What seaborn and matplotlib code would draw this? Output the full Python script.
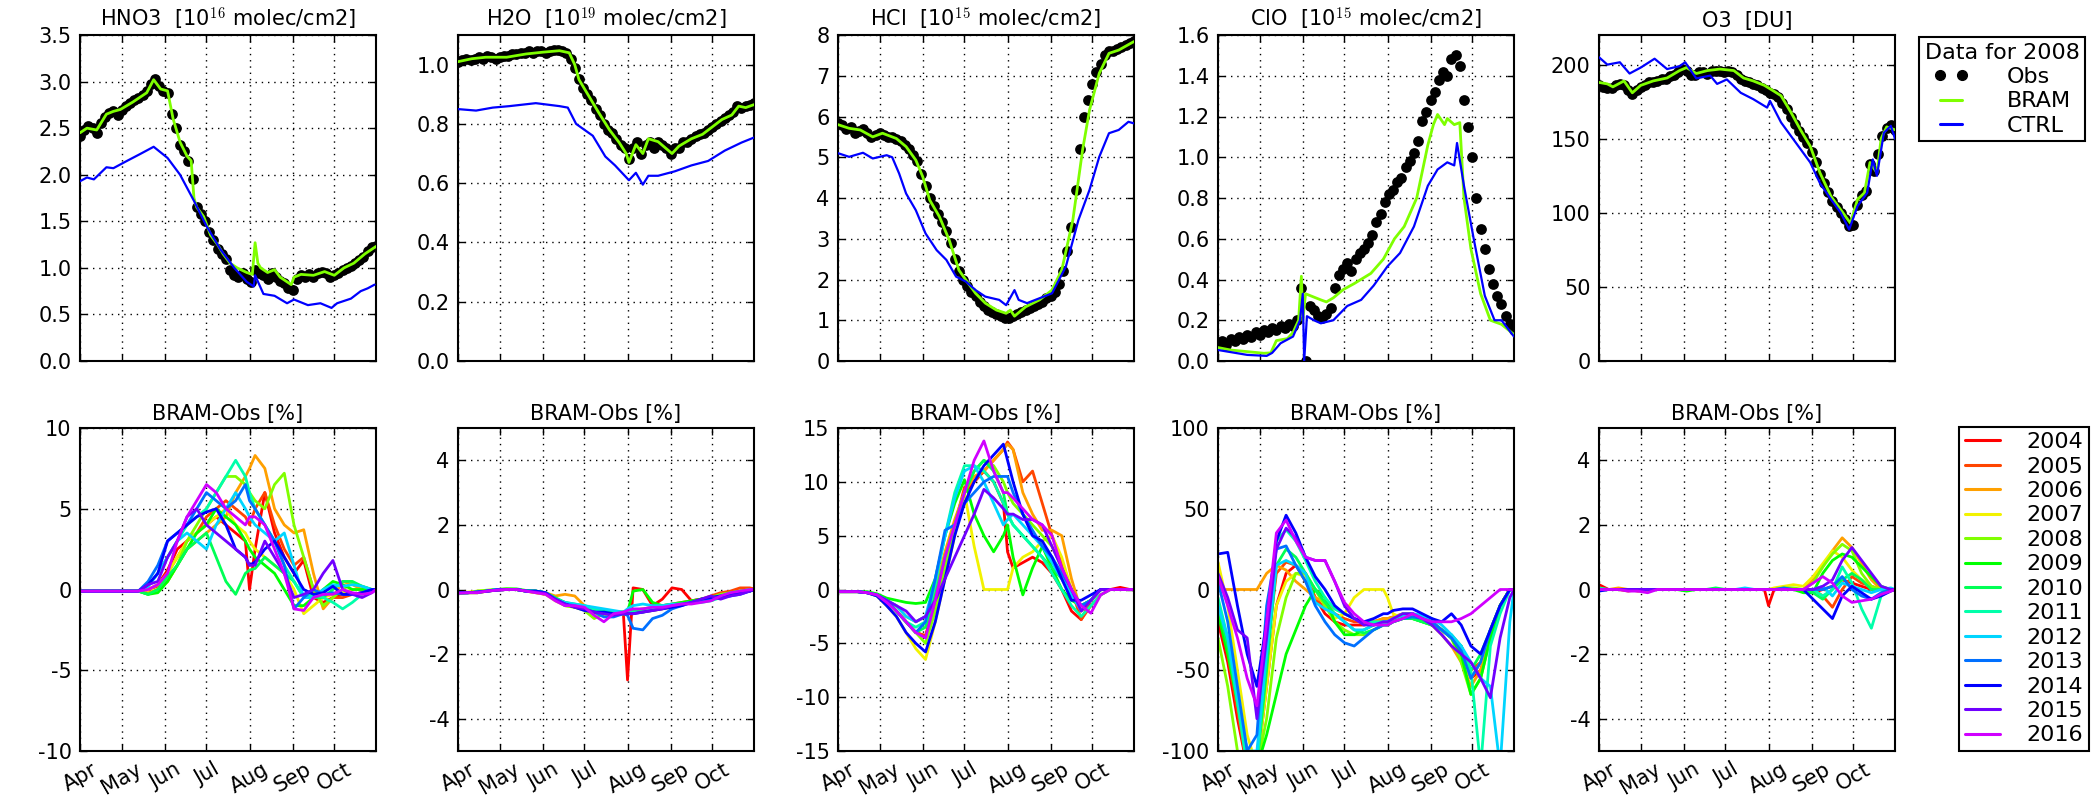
import numpy as np
import pandas as pd
import matplotlib
matplotlib.use("Agg")
import matplotlib.pyplot as plt
import seaborn as sns
from matplotlib.lines import Line2D
from matplotlib.ticker import FormatStrFormatter

# ---------------------------------------------------------------- data
MONTHS = ["Apr", "May", "Jun", "Jul", "Aug", "Sep", "Oct"]
MONTH_DAYS = [0, 30, 61, 91, 122, 153, 183]   # days since 1 April
X_END = 213
OBS_STEP = 3                                   # obs sampled every 3 days

# ---- top row (year 2008): Obs on a 3-day grid, BRAM / CTRL as (day, value)
HNO3_OBS = [2.42, 2.48, 2.52, 2.50, 2.45, 2.55, 2.62, 2.66, 2.68, 2.64,
            2.70, 2.74, 2.77, 2.80, 2.82, 2.86, 2.90, 2.97, 3.03, 2.95,
            2.90, 2.88, 2.65, 2.50, 2.32, 2.25, 2.15, 1.95, 1.65, 1.58,
            1.50, 1.38, 1.30, 1.20, 1.15, 1.10, 0.98, 0.92, 0.90, 0.95,
            0.88, 0.85, 0.98, 0.95, 0.92, 0.88, 0.95, 0.90, 0.86, 0.84,
            0.78, 0.76, 0.88, 0.92, 0.90, 0.93, 0.90, 0.94, 0.96, 0.95,
            0.90, 0.92, 0.95, 0.98, 1.00, 1.02, 1.05, 1.08, 1.12, 1.18,
            1.22, 1.24]
HNO3_BRAM = [(0, 2.45), (5, 2.50), (12, 2.48), (19, 2.65), (24, 2.68), (29, 2.70),
             (38, 2.78), (48, 2.88), (53, 3.02), (58, 2.92), (63, 2.90), (67, 2.60),
             (72, 2.35), (77, 2.20), (80, 2.15), (82, 1.75), (84, 1.65), (89, 1.55),
             (94, 1.35), (99, 1.25), (103, 1.15), (108, 1.05), (113, 1.00), (120, 0.95),
             (124, 0.93), (126, 1.27), (128, 1.05), (130, 1.00), (135, 0.95), (140, 0.98),
             (144, 0.90), (152, 0.82), (154, 0.90), (159, 0.93), (168, 0.92), (176, 0.96),
             (183, 0.92), (190, 1.00), (197, 1.05), (205, 1.15), (213, 1.23)]
HNO3_CTRL = [(0, 1.93), (5, 1.97), (10, 1.95), (19, 2.08), (24, 2.07), (34, 2.15),
             (43, 2.22), (53, 2.30), (63, 2.18), (72, 2.00), (82, 1.72), (91, 1.45),
             (101, 1.20), (111, 1.00), (120, 0.85), (125, 0.80), (126, 0.92), (132, 0.72),
             (140, 0.70), (149, 0.62), (154, 0.66), (164, 0.60), (173, 0.62), (181, 0.57),
             (185, 0.62), (195, 0.67), (202, 0.75), (207, 0.78), (212, 0.82)]

H2O_OBS = [1.010, 1.015, 1.020, 1.015, 1.020, 1.025, 1.020, 1.030, 1.025, 1.020,
           1.025, 1.030, 1.030, 1.035, 1.035, 1.040, 1.040, 1.045, 1.040, 1.045,
           1.045, 1.040, 1.045, 1.050, 1.050, 1.045, 1.040, 1.020, 0.990, 0.950,
           0.920, 0.900, 0.880, 0.850, 0.830, 0.800, 0.780, 0.770, 0.750, 0.730,
           0.720, 0.680, 0.720, 0.740, 0.700, 0.730, 0.740, 0.720, 0.740, 0.730,
           0.720, 0.700, 0.720, 0.720, 0.740, 0.740, 0.750, 0.760, 0.765, 0.770,
           0.780, 0.790, 0.800, 0.810, 0.820, 0.830, 0.840, 0.860, 0.855, 0.860,
           0.865, 0.870]
H2O_BRAM = [(0, 1.01), (10, 1.02), (20, 1.025), (35, 1.025), (49, 1.036), (61, 1.042),
            (73, 1.047), (80, 1.04), (84, 1.0), (87, 0.95), (94, 0.895), (101, 0.84),
            (109, 0.78), (116, 0.737), (121, 0.70), (123, 0.67), (128, 0.73), (133, 0.70),
            (137, 0.75), (144, 0.74), (154, 0.70), (159, 0.725), (168, 0.75), (176, 0.765),
            (183, 0.79), (190, 0.815), (197, 0.83), (202, 0.86), (207, 0.855), (213, 0.865)]
H2O_CTRL = [(0, 0.85), (13, 0.845), (25, 0.855), (37, 0.86), (56, 0.87), (73, 0.86),
            (79, 0.855), (85, 0.80), (97, 0.76), (106, 0.69), (113, 0.66), (123, 0.61),
            (128, 0.635), (133, 0.595), (137, 0.625), (144, 0.625), (156, 0.64), (168, 0.66),
            (180, 0.675), (192, 0.71), (204, 0.737), (213, 0.754)]

HCL_OBS = [5.85, 5.80, 5.70, 5.75, 5.60, 5.65, 5.70, 5.60, 5.50, 5.55,
           5.60, 5.55, 5.50, 5.50, 5.45, 5.40, 5.30, 5.20, 5.05, 4.90,
           4.60, 4.30, 4.00, 3.80, 3.60, 3.40, 3.20, 2.90, 2.50, 2.20,
           2.00, 1.85, 1.70, 1.60, 1.45, 1.35, 1.25, 1.20, 1.15, 1.10,
           1.05, 1.05, 1.10, 1.15, 1.20, 1.25, 1.30, 1.35, 1.40, 1.45,
           1.55, 1.60, 1.70, 1.90, 2.20, 2.70, 3.30, 4.20, 5.20, 6.00,
           6.40, 6.80, 7.10, 7.30, 7.50, 7.60, 7.60, 7.65, 7.70, 7.75,
           7.80, 7.85]
HCL_BRAM = [(0, 5.8), (8, 5.71), (16, 5.67), (25, 5.5), (32, 5.59), (42, 5.46), (49, 5.26),
            (56, 4.93), (61, 4.52), (66, 3.95), (73, 3.54), (80, 2.97), (87, 2.23), (92, 1.99),
            (99, 1.66), (106, 1.42), (114, 1.25), (121, 1.17), (124, 1.25), (127, 1.1),
            (135, 1.33), (145, 1.5), (154, 1.74), (161, 2.23), (169, 3.46), (176, 5.18),
            (181, 6.16), (188, 7.06), (195, 7.55), (202, 7.63), (213, 7.84)]
HCL_CTRL = [(0, 5.1), (8, 5.01), (18, 5.11), (25, 4.97), (35, 5.05), (39, 5.0), (44, 4.6),
            (49, 4.11), (56, 3.7), (63, 3.13), (71, 2.72), (78, 2.48), (85, 2.07), (92, 1.95),
            (99, 1.74), (106, 1.58), (116, 1.5), (121, 1.37), (127, 1.74), (130, 1.5),
            (136, 1.42), (145, 1.54), (154, 1.66), (164, 2.32), (173, 3.46), (181, 4.2),
            (188, 5.01), (195, 5.59), (202, 5.67), (209, 5.87), (213, 5.83)]

CLO_OBS = [0.09, 0.10, 0.08, 0.11, 0.10, 0.12, 0.11, 0.13, 0.12, 0.14,
           0.13, 0.15, 0.14, 0.16, 0.15, 0.17, 0.16, 0.18, 0.17, 0.20,
           0.36, 0.00, 0.27, 0.25, 0.22, 0.21, 0.23, 0.26, 0.36, 0.42,
           0.45, 0.48, 0.44, 0.50, 0.53, 0.55, 0.58, 0.62, 0.68, 0.72,
           0.78, 0.82, 0.84, 0.88, 0.90, 0.95, 0.98, 1.02, 1.08, 1.18,
           1.22, 1.28, 1.32, 1.38, 1.42, 1.40, 1.48, 1.50, 1.45, 1.28,
           1.15, 1.00, 0.80, 0.65, 0.55, 0.45, 0.38, 0.32, 0.28, 0.22,
           0.18, 0.15]
CLO_BRAM = [(0, 0.066), (9, 0.054), (21, 0.046), (33, 0.038), (38, 0.04), (42, 0.10),
            (50, 0.11), (54, 0.14), (58, 0.2), (60, 0.416), (61, 0.2), (63, 0.33),
            (74, 0.30), (78, 0.29), (83, 0.31), (90, 0.35), (98, 0.38), (110, 0.43),
            (119, 0.5), (127, 0.6), (134, 0.66), (143, 0.8), (151, 1.06), (155, 1.16),
            (158, 1.21), (163, 1.16), (165, 1.19), (170, 1.16), (174, 1.17), (177, 0.8),
            (182, 0.55), (189, 0.33), (196, 0.2), (204, 0.18), (213, 0.13)]
CLO_CTRL = [(0, 0.054), (21, 0.03), (35, 0.025), (39, 0.04), (45, 0.087), (54, 0.12),
            (59, 0.2), (61, 0.33), (62, 0.0), (64, 0.22), (69, 0.2), (74, 0.185), (83, 0.2),
            (93, 0.27), (103, 0.3), (112, 0.37), (122, 0.465), (131, 0.53), (141, 0.66),
            (151, 0.86), (158, 0.94), (165, 0.975), (170, 0.96), (172, 1.07), (177, 0.86),
            (184, 0.6), (192, 0.32), (199, 0.2), (204, 0.2), (213, 0.12)]

O3_OBS = [186, 185, 184, 184, 186, 187, 186, 183, 180, 183,
          185, 186, 188, 188, 189, 190, 190, 192, 193, 195,
          197, 196, 193, 193, 195, 195, 194, 196, 196, 196,
          195, 196, 195, 193, 190, 189, 188, 187, 186, 184,
          183, 181, 180, 178, 174, 170, 165, 160, 155, 151,
          147, 141, 134, 126, 120, 114, 108, 104, 100, 96,
          91, 92, 105, 112, 115, 133, 128, 140, 152, 157,
          159, 156]
O3_BRAM = [(0, 188), (6, 187), (10, 185), (18, 189), (24, 181), (30, 186), (39, 189),
           (49, 191), (58, 196), (63, 198), (70, 194), (78, 196), (87, 197), (97, 196),
           (104, 191), (111, 189), (119, 186), (126, 182), (131, 179), (138, 168),
           (145, 156), (152, 145), (159, 127), (167, 111), (174, 102), (179, 95.5),
           (181, 93), (186, 109), (191, 113.5), (195, 134), (200, 127), (203, 150),
           (207, 158), (213, 156)]
O3_CTRL = [(0, 205), (6, 200), (15, 201.6), (22, 194), (30, 198), (40, 204), (49, 197),
           (58, 199), (62, 201.6), (70, 190.7), (80, 192.6), (85, 187), (92, 190),
           (102, 181), (111, 176.7), (121, 171), (123, 175.6), (131, 161), (138, 152),
           (145, 143), (152, 134), (159, 120), (167, 109), (174, 100), (180, 88.7),
           (186, 104.5), (193, 113.5), (197, 136), (200, 125), (205, 154), (210, 158.7),
           (213, 150)]

# ---- bottom row: BRAM-Obs [%] per year, on a common day grid
YEARS = [2004, 2005, 2006, 2007, 2008, 2009, 2010, 2011, 2012, 2013, 2014, 2015, 2016]
DAYS_BOT = [0, 7, 14, 21, 28, 35, 42, 49, 56, 63, 70, 77, 84, 91, 98, 105, 112, 119, 122,
            126, 133, 140, 147, 154, 161, 168, 175, 182, 189, 196, 203, 210, 213]

DIFF_HNO3 = {
    2004: [-0.1, -0.1, -0.1, -0.1, -0.1, -0.1, -0.1, 0, 0.3, 1.2, 2.5, 3, 3.5, 4, 4.5, 4, 3.5, 3, 0, 2.5, 6, 3.5, 2, 1, 1.8, -0.5, -0.8, -0.5, -0.3, -0.3, -0.2, 0, 0],
    2005: [-0.1, -0.1, -0.1, -0.1, -0.1, -0.1, -0.1, 0, 0.2, 1, 2, 3, 3.5, 4.5, 5, 5.5, 5, 4.5, 4, 5, 6, 4, 2.5, 1.5, 2, 0, -1, -0.5, -0.5, -0.3, -0.2, 0, 0],
    2006: [-0.1, -0.1, -0.1, -0.1, -0.1, -0.1, -0.1, -0.2, 0, 0.5, 1.5, 2.5, 3, 3.5, 4, 4.5, 6, 7, 7.5, 8.3, 7.5, 5, 4, 3.5, 3.7, 1, -1.2, -0.5, 0.5, 0.3, 0, 0, 0],
    2007: [-0.1, -0.1, -0.1, -0.1, -0.1, -0.1, -0.1, 0, 0.3, 1, 2, 3, 3.5, 4, 4.5, 5, 4, 3.5, 3, 2.5, 2, 1.5, 1, 0, -1.5, -1, -0.5, -0.3, -0.2, 0, 0, 0, 0],
    2008: [-0.1, -0.1, -0.1, -0.1, -0.1, -0.1, -0.1, -0.3, 0, 0.5, 1.5, 3, 4, 5, 6, 7, 7, 6.5, 6, 5.5, 5, 6.5, 7.2, 4, 2, 0, -1, -0.5, 0, 0.4, 0.2, 0, 0],
    2009: [-0.1, -0.1, -0.1, -0.1, -0.1, -0.1, -0.1, -0.3, -0.2, 0.5, 1.5, 2.5, 3.5, 4, 5, 4.5, 4, 3, 2.5, 2, 1.5, 1, 0, -1, -1, -0.5, 0, 0.5, 0.3, 0, 0, 0, 0],
    2010: [-0.1, -0.1, -0.1, -0.1, -0.1, -0.1, -0.1, -0.3, 0, 0.8, 1.5, 2.5, 3, 3.5, 2, 0.5, -0.3, 1, 1.2, 1.3, 2, 1.5, 1, 0.5, -0.5, -0.5, -0.5, 0, 0.5, 0.5, 0.2, 0, 0],
    2011: [-0.1, -0.1, -0.1, -0.1, -0.1, -0.1, -0.1, 0.2, 1, 2, 3, 4, 4.5, 5, 6, 7, 8, 7, 6, 5, 4, 3, 1.5, 0.5, -0.5, -0.3, -0.5, -0.8, -1.2, -0.8, -0.3, 0, 0],
    2012: [-0.1, -0.1, -0.1, -0.1, -0.1, -0.1, -0.1, 0.2, 1, 2, 3, 3.5, 3, 2.5, 4, 5, 6, 5, 4.5, 4, 3.5, 3, 3.5, 1.5, -0.5, -0.5, 0, 0.3, 0.2, 0.3, 0.2, 0, 0],
    2013: [-0.1, -0.1, -0.1, -0.1, -0.1, -0.1, -0.1, 0.5, 1.5, 3, 3.5, 4, 5, 6, 5.5, 5, 5.5, 6.5, 5.5, 5, 4, 3, 1.5, -1.2, -0.5, 0, -0.3, -0.2, -0.3, -0.3, -0.2, 0, 0],
    2014: [-0.1, -0.1, -0.1, -0.1, -0.1, -0.1, -0.1, 0.3, 1, 3, 3.5, 4, 4.5, 4.8, 5, 4, 2.5, 2, 1.5, 1.7, 2.5, 3, 2, 1, 0, -0.3, -0.2, 0.2, -0.3, -0.3, -0.2, 0, 0],
    2015: [-0.1, -0.1, -0.1, -0.1, -0.1, -0.1, -0.1, 0.3, 0.5, 2, 3, 4.5, 5, 4, 3.5, 3, 2.5, 2, 1.5, 1.5, 3, 2, 1, -0.5, -0.3, 0, 1, 1.8, 0, -0.3, -0.5, -0.2, 0],
    2016: [-0.1, -0.1, -0.1, -0.1, -0.1, -0.1, -0.1, 0, 0.3, 1, 3, 4.5, 5.5, 6.5, 6, 5, 4.5, 4, 4.5, 4.5, 4, 2.5, 1, -1.2, -1.3, -0.5, -0.3, -0.3, 0, -0.2, -0.3, -0.2, 0],
}

DIFF_H2O = {
    2004: [-0.1, -0.1, -0.08, -0.05, -0.02, 0, 0, -0.05, -0.05, -0.1, -0.3, -0.45, -0.5, -0.6, -0.65, -0.7, -0.75, -0.75, -2.8, 0.05, 0.0, -0.5, -0.3, 0.05, 0.0, -0.35, -0.3, -0.25, -0.2, -0.1, -0.05, 0, 0],
    2005: [-0.12, -0.1, -0.1, -0.05, 0, 0, 0, -0.05, -0.1, -0.15, -0.3, -0.4, -0.5, -0.55, -0.6, -0.65, -0.7, -0.75, -0.7, -0.65, -0.6, -0.55, -0.5, -0.45, -0.4, -0.35, -0.3, -0.2, -0.1, -0.05, 0.05, 0.05, 0.02],
    2006: [-0.1, -0.1, -0.1, -0.05, 0, 0, 0, -0.05, -0.05, -0.1, -0.2, -0.15, -0.2, -0.5, -0.6, -0.65, -0.7, -0.7, -0.7, -0.7, -0.65, -0.6, -0.55, -0.5, -0.45, -0.4, -0.3, -0.25, -0.2, -0.15, -0.1, -0.05, 0],
    2007: [-0.1, -0.08, -0.05, -0.03, 0, 0, 0, -0.05, -0.1, -0.15, -0.35, -0.5, -0.55, -0.6, -0.75, -0.8, -0.8, -0.75, -0.75, -0.7, -0.7, -0.65, -0.6, -0.55, -0.45, -0.4, -0.35, -0.25, -0.2, -0.15, -0.1, -0.05, 0],
    2008: [-0.1, -0.1, -0.05, -0.02, 0, 0.02, 0, -0.05, -0.05, -0.12, -0.3, -0.5, -0.55, -0.65, -0.9, -0.75, -0.7, -0.7, -0.65, -0.65, -0.6, -0.6, -0.55, -0.5, -0.45, -0.4, -0.3, -0.25, -0.15, -0.1, -0.05, 0, 0],
    2009: [-0.1, -0.1, -0.08, -0.04, 0, 0.02, 0.02, -0.03, -0.05, -0.1, -0.3, -0.45, -0.5, -0.6, -0.65, -0.7, -0.75, -0.7, -0.7, -0.05, 0.0, -0.4, -0.5, -0.45, -0.4, -0.35, -0.3, -0.25, -0.2, -0.15, -0.1, -0.05, 0],
    2010: [-0.12, -0.1, -0.1, -0.05, -0.02, 0, 0, -0.05, -0.05, -0.1, -0.25, -0.4, -0.45, -0.5, -0.6, -0.65, -0.7, -0.7, -0.7, -0.65, -0.65, -0.6, -0.55, -0.5, -0.45, -0.4, -0.3, -0.25, -0.2, -0.1, -0.05, 0, 0],
    2011: [-0.1, -0.1, -0.08, -0.05, 0, 0, 0, -0.05, -0.05, -0.1, -0.3, -0.5, -0.5, -0.55, -0.6, -0.7, -0.75, -0.75, -0.7, -0.7, -0.7, -0.6, -0.55, -0.5, -0.45, -0.4, -0.4, -0.35, -0.25, -0.15, -0.1, -0.05, 0],
    2012: [-0.1, -0.1, -0.08, -0.05, 0, 0, 0, -0.05, -0.05, -0.1, -0.3, -0.4, -0.45, -0.5, -0.55, -0.6, -0.65, -0.7, -0.6, -0.5, -0.45, -0.5, -0.5, -0.45, -0.45, -0.4, -0.35, -0.3, -0.25, -0.2, -0.1, -0.05, 0],
    2013: [-0.1, -0.1, -0.08, -0.05, 0, 0, 0, -0.05, -0.05, -0.1, -0.3, -0.45, -0.5, -0.6, -0.7, -0.85, -0.85, -0.75, -0.8, -1.2, -1.25, -0.9, -0.8, -0.6, -0.5, -0.4, -0.35, -0.3, -0.25, -0.2, -0.15, -0.05, 0],
    2014: [-0.1, -0.1, -0.08, -0.05, -0.02, 0, 0, -0.05, -0.05, -0.1, -0.3, -0.45, -0.55, -0.65, -0.7, -0.7, -0.75, -0.75, -0.75, -0.75, -0.7, -0.65, -0.6, -0.55, -0.5, -0.4, -0.3, -0.25, -0.2, -0.15, -0.1, -0.05, 0],
    2015: [-0.1, -0.1, -0.08, -0.05, -0.02, 0, 0, -0.05, -0.08, -0.12, -0.3, -0.45, -0.55, -0.6, -0.7, -0.75, -0.8, -0.75, -0.75, -0.75, -0.7, -0.65, -0.6, -0.5, -0.45, -0.4, -0.3, -0.2, -0.3, -0.2, -0.15, -0.05, 0],
    2016: [-0.12, -0.1, -0.1, -0.05, -0.02, 0, 0, -0.05, -0.1, -0.15, -0.35, -0.5, -0.5, -0.55, -0.8, -1.0, -0.75, -0.7, -0.65, -0.6, -0.6, -0.55, -0.55, -0.5, -0.45, -0.45, -0.4, -0.35, -0.2, -0.1, -0.05, 0, 0],
}

DIFF_HCL = {
    2004: [-0.2, -0.2, -0.2, -0.3, -0.5, -1, -2, -3, -4, -4.3, -1, 3, 6, 9, 10, 11, 10, 8, 3.5, 2, 2.5, 3, 2.5, 1.5, 0, -2, -2.8, -1, 0, 0, 0.2, 0, 0],
    2005: [-0.2, -0.2, -0.2, -0.3, -0.5, -1, -2, -3, -4, -4.3, -1.5, 2, 6, 9.5, 10, 11, 12, 13, 13.7, 13, 10, 11, 8, 5, 2.5, 0, -2.8, -1.5, -0.5, 0, 0, 0, 0],
    2006: [-0.2, -0.2, -0.2, -0.3, -0.5, -1, -1.5, -2.5, -3, -2.5, 0, 3.5, 6.5, 9, 10.5, 11, 12, 13, 13.5, 13, 9, 7, 5.5, 5.5, 5, 1, -2, -1, 0, 0, 0, 0, 0],
    2007: [-0.2, -0.2, -0.2, -0.3, -0.6, -1.5, -2.5, -4, -5.5, -6.5, -3, 1, 5, 9, 4, 0, 0, 0, 0, 2, 3, 3.5, 4.5, 5, 3, 0, -2, -1, 0, 0, 0, 0, 0],
    2008: [-0.2, -0.2, -0.2, -0.3, -0.5, -1, -2, -3, -4, -5, -2, 2, 6, 9, 11, 12, 11.5, 10, 9, 8, 7, 6, 5, 4, 2, 0, -1.5, -1, 0, 0, 0, 0, 0],
    2009: [-0.2, -0.2, -0.2, -0.2, -0.4, -0.8, -1, -1.2, -1.3, -1.2, 1, 5, 8, 10.2, 7, 5, 3.5, 5, 6, 3, -0.5, 2, 4, 2, 0, -1, -1.5, -1, 0, 0, 0, 0, 0],
    2010: [-0.2, -0.2, -0.2, -0.3, -0.5, -1, -2, -3, -4, -3.5, -0.5, 3, 6, 9, 11, 12, 11, 9, 7, 6, 5, 4, 3, 2, 1, -0.5, -1.5, -1, 0, 0, 0, 0, 0],
    2011: [-0.2, -0.2, -0.2, -0.3, -0.6, -1.2, -2, -3, -3.5, -3, 0.5, 5, 9, 11.5, 11.5, 11, 10, 8, 7, 6, 5, 4, 3, 1.5, 0, -1.5, -2.5, -1.5, -0.5, 0, 0, 0, 0],
    2012: [-0.2, -0.2, -0.2, -0.3, -0.5, -1, -1.5, -2.5, -3, -2.5, 1, 5, 8.5, 11, 11.5, 10, 8, 6, 6.5, 7, 6, 5, 4, 2.5, 1, -0.5, -2, -1, 0, 0, 0, 0, 0],
    2013: [-0.2, -0.2, -0.2, -0.3, -0.5, -1, -2, -3, -4, -3, 1, 5.5, 6, 8, 9, 10, 10.5, 10.5, 10.5, 9, 7, 5.5, 4, 3, 1.5, 0, -1.5, -1, 0, 0, 0, 0, 0],
    2014: [-0.2, -0.2, -0.2, -0.3, -0.6, -1.5, -2.5, -4, -5, -5.8, -3, 1, 5, 8, 10, 11.5, 12.5, 13.5, 12, 10, 7, 5, 4.5, 3, 1, -1, -1, -0.5, 0, 0, 0, 0, 0],
    2015: [-0.2, -0.2, -0.2, -0.3, -0.5, -1, -1.5, -2, -3, -2.5, -1, 1, 3, 5, 7, 9.3, 8.5, 7.5, 7, 7, 6.5, 6.5, 6, 4, 2, 0, -2, -1, 0, 0, 0, 0, 0],
    2016: [-0.2, -0.2, -0.2, -0.3, -0.5, -1.2, -2, -3, -4, -4.5, -1, 3, 6, 9, 12, 13.8, 11, 9, 9, 8.5, 7.5, 6.5, 6, 5, 2, 0, -1.5, -2.2, -0.5, 0, 0, 0, 0],
}

DIFF_CLO = {
    2004: [-20, -45, -80, -110, -110, -60, -10, 10, 15, 5, -5, -15, -20, -22, -22, -22, -20, -20, -20, -18, -16, -15, -18, -20, -25, -30, -40, -55, -50, -30, -10, 0, 0],
    2005: [-10, -40, -75, -110, -105, -40, 10, 17, 15, 10, -5, -12, -15, -18, -20, -20, -20, -18, -18, -17, -15, -15, -18, -20, -25, -30, -35, -50, -45, -25, -10, 0, 0],
    2006: [0, 0, 0, 0, 0, 10, 15, 12, 5, 0, -5, -8, -12, -15, -18, -20, -20, -18, -18, -17, -16, -15, -18, -22, -28, -35, -45, -60, -50, -30, -10, 0, 0],
    2007: [17, -10, -50, -90, -110, -60, -10, 5, 10, 8, 0, -10, -18, -15, -5, 0, 0, 0, -5, -15, -18, -15, -18, -20, -25, -30, -40, -55, -45, -25, -10, 0, 0],
    2008: [-30, -60, -100, -110, -110, -80, -30, -5, 10, 10, 0, -10, -20, -25, -28, -28, -25, -22, -22, -20, -18, -18, -20, -22, -25, -30, -45, -65, -55, -30, -10, 0, 0],
    2009: [-15, -40, -70, -100, -110, -90, -65, -40, -25, -10, 0, -5, -20, -28, -28, -25, -22, -20, -20, -20, -18, -18, -20, -22, -25, -30, -40, -65, -55, -30, -10, 0, 0],
    2010: [-10, -35, -70, -105, -110, -50, 15, 25, 20, 10, 0, -8, -15, -20, -25, -27, -25, -22, -22, -20, -18, -18, -20, -22, -25, -28, -35, -50, -40, -25, -10, 0, 0],
    2011: [-5, -30, -70, -110, -110, -30, 30, 37, 30, 18, 5, -5, -12, -15, -18, -20, -20, -20, -20, -18, -15, -15, -17, -20, -25, -30, -35, -50, -110, -35, -15, 0, 0],
    2012: [-10, -30, -65, -100, -100, -40, 15, 18, 15, 10, -8, -12, -15, -20, -25, -25, -22, -20, -20, -18, -16, -15, -16, -18, -22, -28, -35, -45, -55, -60, -110, -20, 0],
    2013: [5, -20, -60, -100, -90, -10, 25, 27, 15, 5, -10, -20, -28, -33, -35, -30, -25, -22, -22, -20, -18, -17, -18, -20, -25, -30, -38, -55, -45, -25, -10, 0, 0],
    2014: [22, 23, -10, -40, -60, -20, 30, 46, 35, 20, 8, 0, -10, -15, -18, -20, -18, -15, -15, -13, -12, -12, -15, -18, -20, -15, -22, -35, -40, -25, -10, 0, 0],
    2015: [10, -5, -25, -30, -80, -30, 25, 38, 32, 20, 18, 18, 5, -10, -18, -22, -22, -20, -20, -18, -15, -15, -18, -22, -28, -35, -40, -45, -55, -67, -30, -5, 0],
    2016: [8, -10, -30, -55, -72, -20, 35, 43, 30, 20, 18, 18, 5, -8, -15, -20, -22, -22, -22, -20, -18, -15, -18, -20, -20, -20, -18, -15, -10, -5, 0, 0, 0],
}

DIFF_O3 = {
    2004: [0.15, 0, 0, 0, -0.05, 0, 0, 0, 0, 0, 0, 0, 0, 0, 0, 0, 0, 0, -0.5, 0, 0, 0, 0, -0.1, 0, 0.1, 0.3, 0.2, 0.1, 0, 0, 0, 0],
    2005: [0, 0, 0, -0.05, 0, 0, 0, 0, 0, 0, 0, 0, 0, 0, 0, 0, 0, 0, 0, 0, 0, 0, 0, 0, -0.2, -0.55, 0, 0.4, 0.2, 0.1, 0, 0, 0],
    2006: [0, 0, 0.05, 0, 0, 0, 0, 0, 0, 0, 0, 0, 0, 0, 0, 0, 0, 0, 0, 0, 0, 0, 0, 0.3, 0.7, 1.2, 1.6, 1.3, 0.8, 0.3, 0, 0, 0],
    2007: [0, 0, 0, 0, 0, 0, 0, 0, 0, 0, 0, 0, 0, 0, 0, 0, 0, 0, 0, 0.05, 0.1, 0.15, 0.1, 0.4, 0.8, 1.2, 1.0, 0.6, 0.3, 0.1, 0, 0, 0],
    2008: [0, 0, 0, 0, 0, -0.05, 0, 0, 0, 0, 0, 0, 0, 0, 0, 0, 0, 0, 0, 0, 0.05, 0.05, 0, 0.2, 0.7, 1.1, 1.4, 1.2, 0.5, 0.1, 0, 0, 0],
    2009: [0, 0, 0, 0, 0, 0, 0, 0, 0, -0.05, 0, 0, 0, 0, 0, 0, 0, 0, 0, 0, 0, 0, -0.1, -0.1, 0.5, 0.9, 1.1, 1.0, 0.7, 0.4, 0.1, 0, 0],
    2010: [0, 0, 0, 0, 0, 0, 0, 0, 0, 0, 0, 0, 0.05, 0, 0, 0, 0, 0, 0, 0, 0, 0, 0, -0.1, -0.3, 0, 0.3, 0.5, 0.3, 0, 0, 0, 0],
    2011: [0.05, 0, 0, 0, 0, 0, 0, 0, 0, 0, 0, 0, 0, 0, 0, 0, 0, 0, 0, 0, 0, 0, 0, 0, -0.2, 0, 0.7, 0.2, -0.6, -1.2, -0.2, 0, 0],
    2012: [0, 0, 0, 0, 0, 0, 0, 0, 0, 0, 0, 0, 0, 0, 0, 0.05, 0, 0, 0, 0, 0, 0, 0, 0, 0.1, -0.2, 0.2, 0.1, 0, -0.1, 0, 0.05, 0],
    2013: [0, 0, 0, 0, 0, 0, 0, 0, 0, 0, 0, 0, 0, 0, 0, 0, 0, 0, 0, 0, 0.05, 0, 0, 0, 0, 0.1, 0.4, 0, -0.2, -0.3, -0.1, 0, 0],
    2014: [-0.05, 0, 0, 0, 0, 0, 0, 0, 0, 0, 0, 0, 0, 0, 0, 0, 0, 0, 0, 0, 0, 0, 0, -0.3, -0.6, -0.9, -0.2, 0.1, -0.1, -0.3, -0.2, -0.05, 0],
    2015: [0, 0, 0, 0, 0, 0, 0, 0, 0, 0, 0, 0, 0, 0, 0, 0, 0, 0, 0, 0, 0, 0, 0, 0, 0.1, 0.3, 0.9, 1.3, 0.9, 0.5, 0.1, 0, 0],
    2016: [0, 0, 0, -0.05, -0.05, -0.1, 0, 0, 0, 0, 0, 0, 0, 0, 0, 0, 0, 0, 0, 0, 0, 0, 0, 0.2, 0.4, 0.2, -0.2, -0.4, -0.35, -0.3, -0.15, -0.05, 0],
}

# ---------------------------------------------------------------- style
YEAR_COLORS = ["#FF0000", "#FF4500", "#FFA000", "#F2F200", "#80FF00", "#00FF00", "#00FF55",
               "#00FFAA", "#00D5FF", "#0070FF", "#0000FF", "#7000FF", "#D000FF"]
BRAM_COLOR = "#7FFF00"
CTRL_COLOR = "#0000FF"

sns.set_style("ticks")
plt.rcParams.update({
    "font.family": ["DejaVu Sans"],
    "mathtext.fontset": "cm",
    "axes.edgecolor": "black",
    "axes.linewidth": 1.5,
    "xtick.direction": "in",
    "ytick.direction": "in",
    "xtick.top": True,
    "ytick.right": True,
    "xtick.major.size": 5,
    "ytick.major.size": 5,
    "xtick.major.width": 1.0,
    "ytick.major.width": 1.0,
    "xtick.color": "black",
    "ytick.color": "black",
    "xtick.labelsize": 15,
    "ytick.labelsize": 15,
    "xtick.major.pad": 6,
    "ytick.major.pad": 6,
    "text.color": "black",
})

W, H = 2099, 799
fig = plt.figure(figsize=(W / 100, H / 100), dpi=100)

LEFTS = [80, 458, 838, 1218, 1599]
AX_W = 296

top_specs = [
    ("HNO3  [10$^{16}$ molec/cm2]", HNO3_OBS, HNO3_BRAM, HNO3_CTRL, (0, 3.5), np.arange(0, 3.51, 0.5), "%.1f"),
    ("H2O  [10$^{19}$ molec/cm2]", H2O_OBS, H2O_BRAM, H2O_CTRL, (0, 1.1), np.arange(0, 1.01, 0.2), "%.1f"),
    ("HCl  [10$^{15}$ molec/cm2]", HCL_OBS, HCL_BRAM, HCL_CTRL, (0, 8), np.arange(0, 8.1, 1), "%d"),
    ("ClO  [10$^{15}$ molec/cm2]", CLO_OBS, CLO_BRAM, CLO_CTRL, (0, 1.6), np.arange(0, 1.61, 0.2), "%.1f"),
    ("O3  [DU]", O3_OBS, O3_BRAM, O3_CTRL, (0, 220), np.arange(0, 201, 50), "%d"),
]
bot_specs = [
    (DIFF_HNO3, (-10, 10), [-10, -5, 0, 5, 10]),
    (DIFF_H2O, (-5, 5), [-4, -2, 0, 2, 4]),
    (DIFF_HCL, (-15, 15), [-15, -10, -5, 0, 5, 10, 15]),
    (DIFF_CLO, (-100, 100), [-100, -50, 0, 50, 100]),
    (DIFF_O3, (-5, 5), [-4, -2, 0, 2, 4]),
]

palette = {str(y): c for y, c in zip(YEARS, YEAR_COLORS)}
hue_order = [str(y) for y in YEARS]


def style_axes(ax, ylim, yticks, fmt, show_x):
    ax.set_xlim(0, X_END)
    ax.set_ylim(*ylim)
    ax.set_xticks(MONTH_DAYS)
    ax.set_yticks(yticks)
    ax.yaxis.set_major_formatter(FormatStrFormatter(fmt))
    if show_x:
        ax.set_xticklabels(MONTHS, rotation=30)
    else:
        ax.set_xticklabels([])
    ax.set_xlabel("")
    ax.set_ylabel("")
    ax.grid(True, color="black", linestyle=(0, (1, 3.5)), linewidth=1.0)
    for s in ax.spines.values():
        s.set_visible(True)
        s.set_color("black")
        s.set_linewidth(1.5)


for col in range(5):
    left = LEFTS[col]
    # ---- top panel
    title, obs, bram, ctrl, ylim, yticks, fmt = top_specs[col]
    ax = fig.add_axes([left / W, 1 - 361 / H, AX_W / W, 326 / H])
    obs_df = pd.DataFrame({"day": np.arange(len(obs)) * OBS_STEP, "value": obs})
    sns.scatterplot(data=obs_df, x="day", y="value", color="black", s=60,
                    edgecolor="black", linewidth=0, ax=ax, zorder=2, legend=False)
    bram_df = pd.DataFrame(bram, columns=["day", "value"])
    sns.lineplot(data=bram_df, x="day", y="value", color=BRAM_COLOR, linewidth=2.0,
                 estimator=None, sort=False, ax=ax, zorder=3)
    ctrl_df = pd.DataFrame(ctrl, columns=["day", "value"])
    sns.lineplot(data=ctrl_df, x="day", y="value", color=CTRL_COLOR, linewidth=1.6,
                 estimator=None, sort=False, ax=ax, zorder=4)
    style_axes(ax, ylim, yticks, fmt, show_x=False)
    ax.set_title(title, fontsize=15, pad=6)

    # ---- bottom panel
    diffs, ylim_b, yticks_b = bot_specs[col]
    rows = []
    for y in YEARS:
        vals = diffs[y]
        n = min(len(vals), len(DAYS_BOT))
        for d, v in zip(DAYS_BOT[:n], vals[:n]):
            rows.append({"day": d, "value": v, "year": str(y)})
    bdf = pd.DataFrame(rows)
    axb = fig.add_axes([left / W, 1 - 751 / H, AX_W / W, 323 / H])
    sns.lineplot(data=bdf, x="day", y="value", hue="year", hue_order=hue_order,
                 palette=palette, linewidth=2.0, estimator=None, sort=False,
                 legend=False, ax=axb)
    style_axes(axb, ylim_b, yticks_b, "%d", show_x=True)
    axb.set_title("BRAM-Obs [%]", fontsize=15, pad=6)

# ---- legends
top_handles = [
    Line2D([], [], linestyle="none", marker="o", color="black", markersize=7),
    Line2D([], [], color=BRAM_COLOR, linewidth=2.2),
    Line2D([], [], color=CTRL_COLOR, linewidth=2.2),
]
leg1 = fig.legend(top_handles, ["Obs", "BRAM", "CTRL"], title="Data for 2008",
                  loc="upper left", bbox_to_anchor=(1919 / W, 1 - 37 / H),
                  fontsize=16, title_fontsize=16, numpoints=2, frameon=True,
                  fancybox=False, framealpha=1, edgecolor="black",
                  handlelength=1.6, handletextpad=1.7, borderpad=0.25,
                  labelspacing=0.2, borderaxespad=0)
leg1.get_frame().set_linewidth(1.5)

year_handles = [Line2D([], [], color=c, linewidth=2.2) for c in YEAR_COLORS]
leg2 = fig.legend(year_handles, [str(y) for y in YEARS], loc="lower left",
                  bbox_to_anchor=(1959 / W, 1 - 751 / H), fontsize=16, frameon=True,
                  fancybox=False, framealpha=1, edgecolor="black",
                  handlelength=1.6, handletextpad=1.2, borderpad=0.25,
                  labelspacing=0.2, borderaxespad=0)
leg2.get_frame().set_linewidth(1.5)

fig.savefig("out.png", dpi=100)
